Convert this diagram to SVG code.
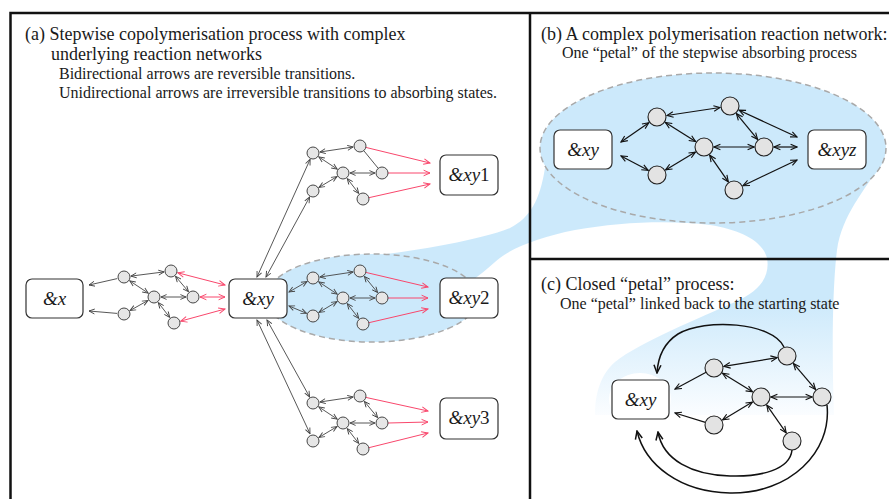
<svg xmlns="http://www.w3.org/2000/svg" width="889" height="499" viewBox="0 0 889 499">
<style>
.t1{font-family:"Liberation Serif",serif;font-size:18px;fill:#1a1a1a}
.t2{font-family:"Liberation Serif",serif;font-size:16px;fill:#1a1a1a}
.lb{font-family:"Liberation Serif",serif;font-size:19px;font-style:italic;fill:#1a1a1a;text-anchor:middle}
.up{font-style:normal}
.box{fill:#fff;stroke:#333;stroke-width:1.2}
.na{fill:#e6e6e6;stroke:#333;stroke-width:0.9}
.nb{fill:#e3e3e3;stroke:#222;stroke-width:1.1}
.ea{fill:none;stroke:#444;stroke-width:0.9}
.eab{fill:none;stroke:#444;stroke-width:0.9;marker-start:url(#ma);marker-end:url(#ma)}
.eau{fill:none;stroke:#444;stroke-width:0.9;marker-end:url(#ma)}
.erb{fill:none;stroke:#f9476c;stroke-width:1;marker-start:url(#mr);marker-end:url(#mr)}
.eru{fill:none;stroke:#f9476c;stroke-width:1;marker-end:url(#mr)}
.ebb{fill:none;stroke:#111;stroke-width:1.2;marker-start:url(#mb);marker-end:url(#mb)}
.ebu{fill:none;stroke:#111;stroke-width:1.2;marker-end:url(#mb)}
.ecu{fill:none;stroke:#111;stroke-width:1.5;marker-end:url(#mc)}
.dash{fill:none;stroke:#a9a9a9;stroke-width:1.5;stroke-dasharray:6 4}
</style>
<defs>
<marker id="ma" viewBox="0 0 10 10" refX="9" refY="5" markerWidth="7" markerHeight="7" markerUnits="userSpaceOnUse" orient="auto-start-reverse"><path d="M1,1.5 L9,5 L1,8.5" fill="none" stroke="#444" stroke-width="1.3"/></marker>
<marker id="mr" viewBox="0 0 10 10" refX="9" refY="5" markerWidth="8" markerHeight="8" markerUnits="userSpaceOnUse" orient="auto-start-reverse"><path d="M1,1.5 L9,5 L1,8.5" fill="none" stroke="#f9476c" stroke-width="1.2"/></marker>
<marker id="mb" viewBox="0 0 10 10" refX="9" refY="5" markerWidth="8" markerHeight="8" markerUnits="userSpaceOnUse" orient="auto-start-reverse"><path d="M1,1.5 L9,5 L1,8.5" fill="none" stroke="#111" stroke-width="1.4"/></marker>
<marker id="mc" viewBox="0 0 10 10" refX="9" refY="5" markerWidth="10" markerHeight="10" markerUnits="userSpaceOnUse" orient="auto"><path d="M1,1.5 L9,5 L1,8.5" fill="none" stroke="#111" stroke-width="1.5"/></marker>
<linearGradient id="gb" gradientUnits="userSpaceOnUse" x1="0" y1="300" x2="0" y2="416">
<stop offset="0" stop-color="#cce9fb"/><stop offset="1" stop-color="#fbfdff"/>
</linearGradient>
</defs>
<rect width="889" height="499" fill="#fff"/>

<g id="highlight">
<path d="M372,256 C420,250 480,240 510,228 C530,218 540,200 545,168 L600,150 L880,165 C865,190 842,215 837,250 C832,290 832,360 834,415 L595,415 C595,395 600,375 615,362 C640,342 700,318 735,302 C762,290 770,275 767,258 C762,240 740,230 710,225 C670,220 620,222 575,230 C540,237 510,248 495,262 C488,268 480,275 470,282 Z" fill="url(#gb)"/>
<ellipse cx="372" cy="298" rx="106" ry="44" fill="#cce9fb"/>
<ellipse cx="713" cy="148" rx="173" ry="75" fill="#cce9fb"/>
<ellipse cx="640" cy="399" rx="31" ry="26" fill="#fff"/>
<ellipse class="dash" cx="372" cy="298" rx="106" ry="44"/>
<ellipse class="dash" cx="713" cy="148" rx="173" ry="75"/>
</g>

<g id="frame" fill="none" stroke="#111" stroke-width="2.5">
<rect x="10.5" y="13" width="900" height="500"/>
<line x1="530" y1="13" x2="530" y2="499"/>
<line x1="530" y1="259" x2="889" y2="259"/>
</g>

<g id="titles">
<text class="t1" x="25" y="40">(a) Stepwise copolymerisation process with complex</text>
<text class="t1" x="51" y="60">underlying reaction networks</text>
<text class="t2" x="59" y="79">Bidirectional arrows are reversible transitions.</text>
<text class="t2" x="59" y="98">Unidirectional arrows are irreversible transitions to absorbing states.</text>
<text class="t1" x="541" y="40">(b) A complex polymerisation reaction network:</text>
<text class="t2" x="562" y="58">One “petal” of the stepwise absorbing process</text>
<text class="t1" x="541" y="290">(c) Closed “petal” process:</text>
<text class="t2" x="560" y="309">One “petal” linked back to the starting state</text>
</g>

<g id="connectors">
<g id="conn-left">
<line class="eau" x1="117.2" y1="278.6" x2="89" y2="285"/>
<line class="eau" x1="117" y1="313.4" x2="89" y2="311"/>
<line class="eab" x1="130.9" y1="276.1" x2="164.1" y2="271.9"/>
<line class="eab" x1="129.8" y1="280.9" x2="148.2" y2="293.1"/>
<line class="eab" x1="175.5" y1="276.3" x2="188.5" y2="291.7"/>
<line class="eab" x1="161" y1="297" x2="186" y2="297"/>
<line class="eab" x1="147.9" y1="300.5" x2="130.1" y2="310.5"/>
<line class="eab" x1="158.3" y1="302.6" x2="169.7" y2="317.4"/>
<line class="erb" x1="177.8" y1="272.8" x2="225" y2="285"/>
<line class="erb" x1="200" y1="297" x2="225" y2="297"/>
<line class="erb" x1="180.7" y1="321.1" x2="225" y2="309"/>
</g>
<g id="conn-xy-links">
<line class="eab" x1="257" y1="277" x2="310.1" y2="159.4"/>
<line class="eab" x1="266" y1="277" x2="309.6" y2="197.1"/>
<line class="eab" x1="289" y1="292" x2="307" y2="281.5"/>
<line class="eab" x1="289" y1="306" x2="306.5" y2="313.3"/>
<line class="eab" x1="257" y1="320" x2="310" y2="433.7"/>
<line class="eab" x1="267" y1="320" x2="309.6" y2="396.9"/>
</g>
<g id="conn-c1">
<line class="eab" x1="319.9" y1="152" x2="353.1" y2="147"/>
<line class="eab" x1="318.8" y1="156.9" x2="337.2" y2="169.1"/>
<line class="ea" x1="363.8" y1="150.7" x2="378.2" y2="168.3"/>
<line class="eab" x1="350" y1="173" x2="375" y2="173"/>
<line class="eab" x1="337" y1="176.6" x2="319" y2="187.4"/>
<line class="eab" x1="347.3" y1="178.6" x2="358.7" y2="193.4"/>
<line class="eru" x1="365.8" y1="147.4" x2="430" y2="163"/>
<line class="eru" x1="388" y1="173" x2="430" y2="173"/>
<line class="eru" x1="368.9" y1="197.7" x2="430" y2="184"/>
</g>
<g id="conn-c2" transform="translate(0,125)">
<line class="eab" x1="319.9" y1="152" x2="353.1" y2="147"/>
<line class="eab" x1="318.8" y1="156.9" x2="337.2" y2="169.1"/>
<line class="eab" x1="364.4" y1="151.4" x2="377.6" y2="167.6"/>
<line class="eab" x1="350" y1="173" x2="375" y2="173"/>
<line class="eab" x1="337" y1="176.6" x2="319" y2="187.4"/>
<line class="eab" x1="347.3" y1="178.6" x2="358.7" y2="193.4"/>
<line class="eru" x1="365.8" y1="147.4" x2="428" y2="162"/>
<line class="eru" x1="388" y1="173" x2="428" y2="173"/>
<line class="eru" x1="368.9" y1="197.7" x2="428" y2="184"/>
</g>
<g id="conn-c3" transform="translate(0,250)">
<line class="eab" x1="319.9" y1="152" x2="353.1" y2="147"/>
<line class="eab" x1="318.8" y1="156.9" x2="337.2" y2="169.1"/>
<line class="eab" x1="364.4" y1="151.4" x2="377.6" y2="167.6"/>
<line class="eab" x1="350" y1="173" x2="375" y2="173"/>
<line class="eab" x1="337" y1="176.6" x2="319" y2="187.4"/>
<line class="eab" x1="347.3" y1="178.6" x2="358.7" y2="193.4"/>
<line class="eru" x1="365.8" y1="147.4" x2="428" y2="161"/>
<line class="eru" x1="388" y1="173" x2="428" y2="172"/>
<line class="eru" x1="368.9" y1="197.7" x2="428" y2="183"/>
</g>
<g id="conn-b">
<line class="ebb" x1="621" y1="142" x2="648.8" y2="122.7"/>
<line class="ebb" x1="621" y1="156" x2="648.2" y2="170.3"/>
<line class="ebb" x1="666.9" y1="115.5" x2="720.1" y2="107.5"/>
<line class="ebb" x1="665.4" y1="122.4" x2="695.6" y2="141.6"/>
<line class="ebb" x1="665.6" y1="169.9" x2="695.4" y2="152.1"/>
<line class="ebb" x1="714" y1="147" x2="754" y2="147"/>
<line class="ebb" x1="736.4" y1="113.7" x2="757.6" y2="139.3"/>
<line class="ebb" x1="739.1" y1="110.2" x2="797" y2="137"/>
<line class="ebb" x1="774" y1="147" x2="797" y2="147"/>
<line class="ebb" x1="709.7" y1="155.2" x2="728.3" y2="181.8"/>
<line class="ebb" x1="743" y1="185.7" x2="797" y2="160"/>
</g>
<g id="conn-c">
<line class="ebu" x1="706.1" y1="372.3" x2="675" y2="389"/>
<line class="ebu" x1="705.4" y1="422.4" x2="675" y2="413"/>
<line class="ebb" x1="723.9" y1="366.4" x2="777.1" y2="357.6"/>
<line class="ebb" x1="722.5" y1="373.3" x2="752.5" y2="391.8"/>
<line class="ebb" x1="722.6" y1="419.9" x2="752.4" y2="402.1"/>
<line class="ebb" x1="771" y1="397" x2="812" y2="397"/>
<line class="ebb" x1="793.5" y1="363.6" x2="815.5" y2="389.4"/>
<line class="ebb" x1="766.8" y1="405.2" x2="786.2" y2="432.8"/>
<path class="ecu" d="M784,347 C772,322 705,318 678,334 C664,343 658,356 657,373"/>
<path class="ecu" d="M827,405 C832,452 790,494 730,493 C680,492 645,465 637,431"/>
<path class="ecu" d="M792,450 C790,470 760,477 730,476 C692,475 663,460 658,432"/>
</g>
</g>

<g id="nodes">
<g id="box-x"><rect class="box" x="26" y="279" width="57" height="39" rx="6"/><text class="lb" x="54.5" y="305">&amp;x</text></g>
<g id="box-xy"><rect class="box" x="229" y="279" width="58" height="39" rx="6"/><text class="lb" x="258" y="305">&amp;xy</text></g>
<g id="box-xy1"><rect class="box" x="440" y="155" width="58" height="40" rx="6"/><text class="lb" x="469" y="181">&amp;xy<tspan class="up">1</tspan></text></g>
<g id="box-xy2"><rect class="box" x="440" y="278" width="58" height="40" rx="6"/><text class="lb" x="469" y="304">&amp;xy<tspan class="up">2</tspan></text></g>
<g id="box-xy3"><rect class="box" x="440" y="398" width="58" height="41" rx="6"/><text class="lb" x="469" y="424">&amp;xy<tspan class="up">3</tspan></text></g>

<g id="la-A"><circle class="na" cx="124" cy="277" r="6"/></g>
<g id="la-B"><circle class="na" cx="171" cy="271" r="6"/></g>
<g id="la-C"><circle class="na" cx="154" cy="297" r="6"/></g>
<g id="la-D"><circle class="na" cx="193" cy="297" r="6"/></g>
<g id="la-E"><circle class="na" cx="124" cy="314" r="6"/></g>
<g id="la-F"><circle class="na" cx="174" cy="323" r="6"/></g>

<g id="c1-P"><circle class="na" cx="313" cy="153" r="6"/></g>
<g id="c1-Q"><circle class="na" cx="360" cy="146" r="6"/></g>
<g id="c1-R"><circle class="na" cx="343" cy="173" r="6"/></g>
<g id="c1-S"><circle class="na" cx="382" cy="173" r="6"/></g>
<g id="c1-T"><circle class="na" cx="313" cy="191" r="6"/></g>
<g id="c1-U"><circle class="na" cx="363" cy="199" r="6"/></g>

<g id="c2-P"><circle class="na" cx="313" cy="278" r="6"/></g>
<g id="c2-Q"><circle class="na" cx="360" cy="271" r="6"/></g>
<g id="c2-R"><circle class="na" cx="343" cy="298" r="6"/></g>
<g id="c2-S"><circle class="na" cx="382" cy="298" r="6"/></g>
<g id="c2-T"><circle class="na" cx="313" cy="316" r="6"/></g>
<g id="c2-U"><circle class="na" cx="363" cy="324" r="6"/></g>

<g id="c3-P"><circle class="na" cx="313" cy="403" r="6"/></g>
<g id="c3-Q"><circle class="na" cx="360" cy="396" r="6"/></g>
<g id="c3-R"><circle class="na" cx="343" cy="423" r="6"/></g>
<g id="c3-S"><circle class="na" cx="382" cy="423" r="6"/></g>
<g id="c3-T"><circle class="na" cx="313" cy="441" r="6"/></g>
<g id="c3-U"><circle class="na" cx="363" cy="449" r="6"/></g>

<g id="b-xy"><rect class="box" x="554" y="130" width="58" height="39" rx="6"/><text class="lb" x="583" y="156">&amp;xy</text></g>
<g id="b-xyz"><rect class="box" x="808" y="130" width="58" height="39" rx="6"/><text class="lb" x="837" y="156">&amp;xyz</text></g>
<g id="b-n1"><circle class="nb" cx="657" cy="117" r="9"/></g>
<g id="b-n2"><circle class="nb" cx="730" cy="106" r="9"/></g>
<g id="b-n3"><circle class="nb" cx="704" cy="147" r="9"/></g>
<g id="b-n4"><circle class="nb" cx="764" cy="147" r="9"/></g>
<g id="b-n5"><circle class="nb" cx="657" cy="175" r="9"/></g>
<g id="b-n6"><circle class="nb" cx="734" cy="190" r="9"/></g>

<g id="c-xy"><rect class="box" x="612" y="380" width="57" height="39" rx="6"/><text class="lb" x="640.5" y="406">&amp;xy</text></g>
<g id="c-n1"><circle class="nb" cx="714" cy="368" r="9"/></g>
<g id="c-n2"><circle class="nb" cx="787" cy="356" r="9"/></g>
<g id="c-n3"><circle class="nb" cx="761" cy="397" r="9"/></g>
<g id="c-n4"><circle class="nb" cx="822" cy="397" r="9"/></g>
<g id="c-n5"><circle class="nb" cx="714" cy="425" r="9"/></g>
<g id="c-n6"><circle class="nb" cx="792" cy="441" r="9"/></g>
</g>
</svg>
